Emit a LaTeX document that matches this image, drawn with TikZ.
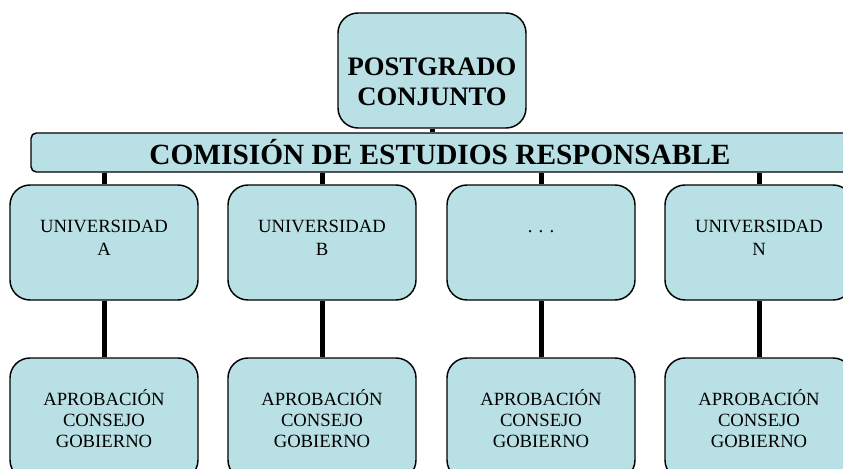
\documentclass[tikz,border=0pt]{standalone}
\usepackage{fontspec}
\setmainfont{Liberation Serif}
\usetikzlibrary{positioning}
\definecolor{cajaazul}{RGB}{185,224,228}

\begin{document}
\begin{tikzpicture}[x=0.75pt, y=-0.75pt,
    caja/.style={draw=black, line width=1.1pt, fill=cajaazul, rounded corners=15pt,
        minimum width=141pt, align=center, inner sep=2pt},
    univ/.style={caja, minimum height=86.25pt, font=\fontsize{14}{17}\selectfont},
    aprob/.style={caja, minimum height=91.5pt, font=\fontsize{14}{15.75}\selectfont},
    enlace/.style={black, line width=3.75pt}]
    \clip (0,0) rectangle (843,468);
    % 上方方塊
    \node[caja, minimum height=86.25pt, font=\bfseries\fontsize{20}{23}\selectfont] (post) at (432,70.5) {~\\[7pt]POSTGRADO\\CONJUNTO};
    % 委員會橫條
    \node[draw=black, line width=1.1pt, fill=cajaazul, rounded corners=4pt,
        minimum width=613.5pt, minimum height=29.25pt, inner sep=0pt,
        font=\bfseries\fontsize{22}{24}\selectfont] (comision) at (440,152.5) {COMISIÓN DE ESTUDIOS RESPONSABLE};
    % 大學方塊
    \node[univ] (uA) at (104,242.5) {UNIVERSIDAD\\A\\[-10pt]~};
    \node[univ] (uB) at (322,242.5) {UNIVERSIDAD\\B\\[-10pt]~};
    \node[univ] (uC) at (541,242.5) {. . .\\~};
    \node[univ] (uN) at (759,242.5) {UNIVERSIDAD\\N\\[-10pt]~};
    % 核准方塊
    \node[aprob] (apA) at (104,419) {APROBACIÓN\\CONSEJO\\GOBIERNO};
    \node[aprob] (apB) at (322,419) {APROBACIÓN\\CONSEJO\\GOBIERNO};
    \node[aprob] (apC) at (541,419) {APROBACIÓN\\CONSEJO\\GOBIERNO};
    \node[aprob] (apN) at (759,419) {APROBACIÓN\\CONSEJO\\GOBIERNO};
    % 連接線
    \draw[enlace] (post.south) -- (post.south |- comision.north);
    \draw[enlace] (uA.north |- comision.south) -- (uA.north);
    \draw[enlace] (uB.north |- comision.south) -- (uB.north);
    \draw[enlace] (uC.north |- comision.south) -- (uC.north);
    \draw[enlace] (uN.north |- comision.south) -- (uN.north);
    \draw[enlace] (uA.south) -- (apA.north);
    \draw[enlace] (uB.south) -- (apB.north);
    \draw[enlace] (uC.south) -- (apC.north);
    \draw[enlace] (uN.south) -- (apN.north);
\end{tikzpicture}
\end{document}
